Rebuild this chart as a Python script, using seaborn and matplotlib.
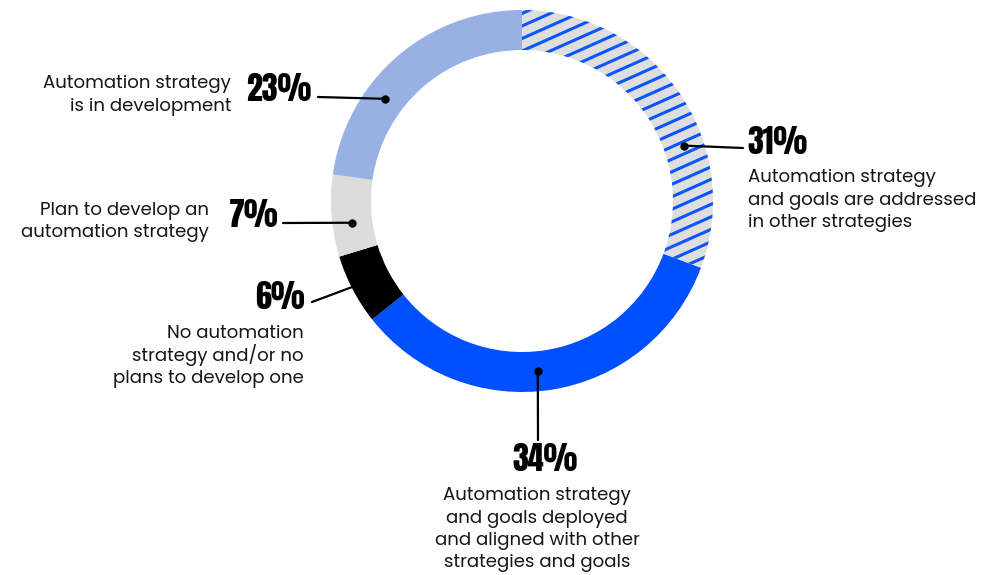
import numpy as np
import matplotlib
matplotlib.use("Agg")
import matplotlib.pyplot as plt
import seaborn as sns

# Survey shares, clockwise from 12 o'clock
categories = [
    "Automation strategy\nand goals are addressed\nin other strategies",
    "Automation strategy\nand goals deployed\nand aligned with other\nstrategies and goals",
    "No automation\nstrategy and/or no\nplans to develop one",
    "Plan to develop an\nautomation strategy",
    "Automation strategy\nis in development",
]
shares = [31, 34, 6, 7, 23]
pct_labels = ["31%", "34%", "6%", "7%", "23%"]

sns.set_theme(style="white")
plt.rcParams["font.family"] = ["Poppins", "Open Sans", "DejaVu Sans"]

W, H = 991, 575
fig = plt.figure(figsize=(W / 100, H / 100), dpi=100)
ax = fig.add_axes([0, 0, 1, 1])

def Y(py):
    return H - py

cx, cy = 522, Y(201)
r_out, ring = 191, 40
colors = ["#dedede", "#0050ff", "#000000", "#dcdcdc", "#98b1e4"]

wedges, _ = ax.pie(
    shares, colors=colors, startangle=90, counterclock=False,
    center=(cx, cy), radius=r_out,
    wedgeprops=dict(width=ring, edgecolor="none", linewidth=0),
)

# Diagonal blue stripes on the first segment
stripe_ang = np.deg2rad(24)
for k in range(-40, 40):
    off = k * 12.5
    x0, x1 = cx - 260, cx + 260
    ys = cy + off + (np.array([x0, x1]) - cx) * np.tan(stripe_ang)
    ln, = ax.plot([x0, x1], ys, color="#0a55ff", lw=2.2, solid_capstyle="butt", zorder=3)
    ln.set_clip_path(wedges[0])

ax.set_xlim(0, W)
ax.set_ylim(0, H)
ax.set_aspect("equal")
ax.axis("off")

pct_font = dict(family=["Anton", "DejaVu Sans"], fontsize=23, color="black")
desc_font = dict(fontsize=13.1, color="#161616")
LINE_STEP = 22.5

def ring_point(angle_deg, r=171):
    a = np.deg2rad(angle_deg)
    return cx + r * np.cos(a), cy + r * np.sin(a)

def description(text, x, first_baseline, ha):
    for i, line in enumerate(text.split("\n")):
        ax.text(x, Y(first_baseline + i * LINE_STEP), line, ha=ha, va="baseline", **desc_font)

# leader lines: angle on the ring -> end point near the label
leaders = [
    (18.9, (743, 148)),
    (-84.7, (538, 440)),
    (207.6, (312, 302)),
    (187.3, (283, 223)),
    (143.3, (318, 97)),
]
for ang, (ex, ey) in leaders:
    px, py = ring_point(ang)
    ax.plot([px, ex], [py, Y(ey)], color="black", lw=1.6, zorder=5)
    ax.plot(px, py, "o", color="black", ms=5, zorder=6)

# 31%
ax.text(747, Y(142), pct_labels[0], ha="left", va="center", **pct_font)
description(categories[0], 748, 182, "left")
# 34%
ax.text(545, Y(459), pct_labels[1], ha="center", va="center", **pct_font)
description(categories[1], 537, 500, "center")
# 6%
ax.text(305, Y(297), pct_labels[2], ha="right", va="center", **pct_font)
description(categories[2], 304, 338, "right")
# 7%
ax.text(278, Y(215), pct_labels[3], ha="right", va="center", **pct_font)
description(categories[3], 209, 215, "right")
# 23%
ax.text(311, Y(89), pct_labels[4], ha="right", va="center", **pct_font)
description(categories[4], 231, 88, "right")

fig.savefig("out.png", dpi=100)
